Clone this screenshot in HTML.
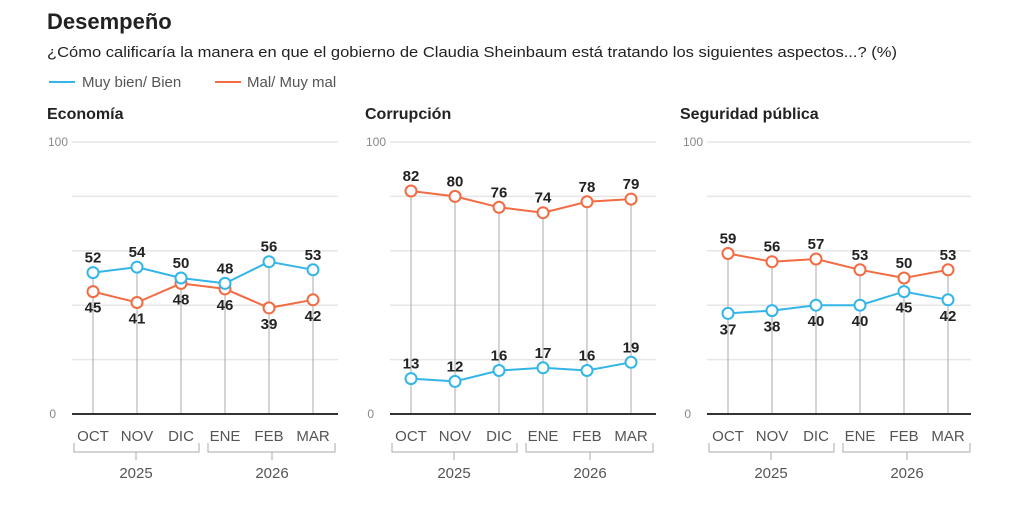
<!DOCTYPE html>
<html><head><meta charset="utf-8"><style>
html,body{margin:0;padding:0;background:#fff;width:1024px;height:505px;overflow:hidden}
svg{font-family:"Liberation Sans",sans-serif;display:block}
.ax{font-size:12px;fill:#888}
.mo{font-size:15px;fill:#555}
.lb{font-size:15px;font-weight:bold;fill:#222;text-anchor:middle}
.g{stroke:#e6e6e6;stroke-width:1.5}
.v{stroke:#aaa;stroke-width:1}
.b{stroke:#33b5e8;fill:none;stroke-width:2}
.o{stroke:#f26b43;fill:none;stroke-width:2}
.bc{stroke:#33b5e8;fill:#fff;stroke-width:2}
.oc{stroke:#f26b43;fill:#fff;stroke-width:2}
.br{stroke:#aaa;fill:none;stroke-width:1}
</style></head><body>
<svg width="1024" height="505" viewBox="0 0 1024 505">
<text x="47" y="29" font-size="22" font-weight="bold" fill="#222">Desempeño</text>
<text x="47" y="57" font-size="15" fill="#222" textLength="850" lengthAdjust="spacingAndGlyphs">¿Cómo calificaría la manera en que el gobierno de Claudia Sheinbaum está tratando los siguientes aspectos...? (%)</text>
<line x1="49" y1="82" x2="75" y2="82" stroke="#33b5e8" stroke-width="2"/>
<text x="82" y="87" font-size="15" fill="#555">Muy bien/ Bien</text>
<line x1="215" y1="82" x2="241" y2="82" stroke="#f26b43" stroke-width="2"/>
<text x="247" y="87" font-size="15" fill="#555">Mal/ Muy mal</text>

<!-- Panel template repeated -->
<g>
<text x="47" y="119" font-size="16" font-weight="bold" fill="#222">Economía</text>
<text x="68" y="146" class="ax" text-anchor="end">100</text>
<text x="56" y="418" class="ax" text-anchor="end">0</text>
<line class="g" x1="72" x2="338" y1="142" y2="142"/><line class="g" x1="72" x2="338" y1="196.4" y2="196.4"/><line class="g" x1="72" x2="338" y1="250.8" y2="250.8"/><line class="g" x1="72" x2="338" y1="305.2" y2="305.2"/><line class="g" x1="72" x2="338" y1="359.6" y2="359.6"/>
<line class="v" x1="93" x2="93" y1="272.6" y2="414"/><line class="v" x1="137" x2="137" y1="267.1" y2="414"/><line class="v" x1="181" x2="181" y1="278" y2="414"/><line class="v" x1="225" x2="225" y1="283.4" y2="414"/><line class="v" x1="269" x2="269" y1="261.7" y2="414"/><line class="v" x1="313" x2="313" y1="269.8" y2="414"/>
<line x1="72" x2="338" y1="414" y2="414" stroke="#333" stroke-width="2"/>
<polyline class="o" points="93,291.6 137,302.5 181,283.4 225,288.9 269,307.9 313,299.8"/>
<polyline class="b" points="93,272.6 137,267.1 181,278 225,283.4 269,261.7 313,269.8"/>
<g class="oc"><circle cx="93" cy="291.6" r="5.5"/><circle cx="137" cy="302.5" r="5.5"/><circle cx="181" cy="283.4" r="5.5"/><circle cx="225" cy="288.9" r="5.5"/><circle cx="269" cy="307.9" r="5.5"/><circle cx="313" cy="299.8" r="5.5"/></g>
<g class="bc"><circle cx="93" cy="272.6" r="5.5"/><circle cx="137" cy="267.1" r="5.5"/><circle cx="181" cy="278" r="5.5"/><circle cx="225" cy="283.4" r="5.5"/><circle cx="269" cy="261.7" r="5.5"/><circle cx="313" cy="269.8" r="5.5"/></g>
<text class="lb" x="93" y="262.6">52</text><text class="lb" x="137" y="257.1">54</text><text class="lb" x="181" y="268">50</text><text class="lb" x="225" y="273.4">48</text><text class="lb" x="269" y="251.7">56</text><text class="lb" x="313" y="259.8">53</text>
<text class="lb" x="93" y="312.6">45</text><text class="lb" x="137" y="323.5">41</text><text class="lb" x="181" y="304.4">48</text><text class="lb" x="225" y="309.9">46</text><text class="lb" x="269" y="328.9">39</text><text class="lb" x="313" y="320.8">42</text>
<g class="mo" text-anchor="middle"><text x="93" y="441">OCT</text><text x="137" y="441">NOV</text><text x="181" y="441">DIC</text><text x="225" y="441">ENE</text><text x="269" y="441">FEB</text><text x="313" y="441">MAR</text>
<text x="136" y="478">2025</text><text x="272" y="478">2026</text></g>
<path class="br" d="M74,443V452H199V443M136,452V460M208,443V452H335V443M272,452V460"/>
</g>

<g>
<text x="365" y="119" font-size="16" font-weight="bold" fill="#222">Corrupción</text>
<text x="386" y="146" class="ax" text-anchor="end">100</text>
<text x="374" y="418" class="ax" text-anchor="end">0</text>
<line class="g" x1="390" x2="656" y1="142" y2="142"/><line class="g" x1="390" x2="656" y1="196.4" y2="196.4"/><line class="g" x1="390" x2="656" y1="250.8" y2="250.8"/><line class="g" x1="390" x2="656" y1="305.2" y2="305.2"/><line class="g" x1="390" x2="656" y1="359.6" y2="359.6"/>
<line class="v" x1="411" x2="411" y1="191" y2="414"/><line class="v" x1="455" x2="455" y1="196.4" y2="414"/><line class="v" x1="499" x2="499" y1="207.3" y2="414"/><line class="v" x1="543" x2="543" y1="212.7" y2="414"/><line class="v" x1="587" x2="587" y1="201.8" y2="414"/><line class="v" x1="631" x2="631" y1="199.1" y2="414"/>
<line x1="390" x2="656" y1="414" y2="414" stroke="#333" stroke-width="2"/>
<polyline class="o" points="411,191 455,196.4 499,207.3 543,212.7 587,201.8 631,199.1"/>
<polyline class="b" points="411,378.6 455,381.4 499,370.5 543,367.8 587,370.5 631,362.3"/>
<g class="oc"><circle cx="411" cy="191" r="5.5"/><circle cx="455" cy="196.4" r="5.5"/><circle cx="499" cy="207.3" r="5.5"/><circle cx="543" cy="212.7" r="5.5"/><circle cx="587" cy="201.8" r="5.5"/><circle cx="631" cy="199.1" r="5.5"/></g>
<g class="bc"><circle cx="411" cy="378.6" r="5.5"/><circle cx="455" cy="381.4" r="5.5"/><circle cx="499" cy="370.5" r="5.5"/><circle cx="543" cy="367.8" r="5.5"/><circle cx="587" cy="370.5" r="5.5"/><circle cx="631" cy="362.3" r="5.5"/></g>
<text class="lb" x="411" y="181">82</text><text class="lb" x="455" y="186.4">80</text><text class="lb" x="499" y="197.3">76</text><text class="lb" x="543" y="202.7">74</text><text class="lb" x="587" y="191.8">78</text><text class="lb" x="631" y="189.1">79</text>
<text class="lb" x="411" y="368.6">13</text><text class="lb" x="455" y="371.4">12</text><text class="lb" x="499" y="360.5">16</text><text class="lb" x="543" y="357.8">17</text><text class="lb" x="587" y="360.5">16</text><text class="lb" x="631" y="352.3">19</text>
<g class="mo" text-anchor="middle"><text x="411" y="441">OCT</text><text x="455" y="441">NOV</text><text x="499" y="441">DIC</text><text x="543" y="441">ENE</text><text x="587" y="441">FEB</text><text x="631" y="441">MAR</text>
<text x="454" y="478">2025</text><text x="590" y="478">2026</text></g>
<path class="br" d="M392,443V452H517V443M454,452V460M526,443V452H653V443M590,452V460"/>
</g>

<g>
<text x="680" y="119" font-size="16" font-weight="bold" fill="#222">Seguridad pública</text>
<text x="703" y="146" class="ax" text-anchor="end">100</text>
<text x="691" y="418" class="ax" text-anchor="end">0</text>
<line class="g" x1="707" x2="971" y1="142" y2="142"/><line class="g" x1="707" x2="971" y1="196.4" y2="196.4"/><line class="g" x1="707" x2="971" y1="250.8" y2="250.8"/><line class="g" x1="707" x2="971" y1="305.2" y2="305.2"/><line class="g" x1="707" x2="971" y1="359.6" y2="359.6"/>
<line class="v" x1="728" x2="728" y1="253.5" y2="414"/><line class="v" x1="772" x2="772" y1="261.7" y2="414"/><line class="v" x1="816" x2="816" y1="259" y2="414"/><line class="v" x1="860" x2="860" y1="269.8" y2="414"/><line class="v" x1="904" x2="904" y1="278" y2="414"/><line class="v" x1="948" x2="948" y1="269.8" y2="414"/>
<line x1="707" x2="971" y1="414" y2="414" stroke="#333" stroke-width="2"/>
<polyline class="o" points="728,253.5 772,261.7 816,259 860,269.8 904,278 948,269.8"/>
<polyline class="b" points="728,313.4 772,310.6 816,305.2 860,305.2 904,291.6 948,299.8"/>
<g class="oc"><circle cx="728" cy="253.5" r="5.5"/><circle cx="772" cy="261.7" r="5.5"/><circle cx="816" cy="259" r="5.5"/><circle cx="860" cy="269.8" r="5.5"/><circle cx="904" cy="278" r="5.5"/><circle cx="948" cy="269.8" r="5.5"/></g>
<g class="bc"><circle cx="728" cy="313.4" r="5.5"/><circle cx="772" cy="310.6" r="5.5"/><circle cx="816" cy="305.2" r="5.5"/><circle cx="860" cy="305.2" r="5.5"/><circle cx="904" cy="291.6" r="5.5"/><circle cx="948" cy="299.8" r="5.5"/></g>
<text class="lb" x="728" y="243.5">59</text><text class="lb" x="772" y="251.7">56</text><text class="lb" x="816" y="249">57</text><text class="lb" x="860" y="259.8">53</text><text class="lb" x="904" y="268">50</text><text class="lb" x="948" y="259.8">53</text>
<text class="lb" x="728" y="334.4">37</text><text class="lb" x="772" y="331.6">38</text><text class="lb" x="816" y="326.2">40</text><text class="lb" x="860" y="326.2">40</text><text class="lb" x="904" y="312.6">45</text><text class="lb" x="948" y="320.8">42</text>
<g class="mo" text-anchor="middle"><text x="728" y="441">OCT</text><text x="772" y="441">NOV</text><text x="816" y="441">DIC</text><text x="860" y="441">ENE</text><text x="904" y="441">FEB</text><text x="948" y="441">MAR</text>
<text x="771" y="478">2025</text><text x="907" y="478">2026</text></g>
<path class="br" d="M709,443V452H834V443M771,452V460M843,443V452H970V443M907,452V460"/>
</g>
</svg>
</body></html>
